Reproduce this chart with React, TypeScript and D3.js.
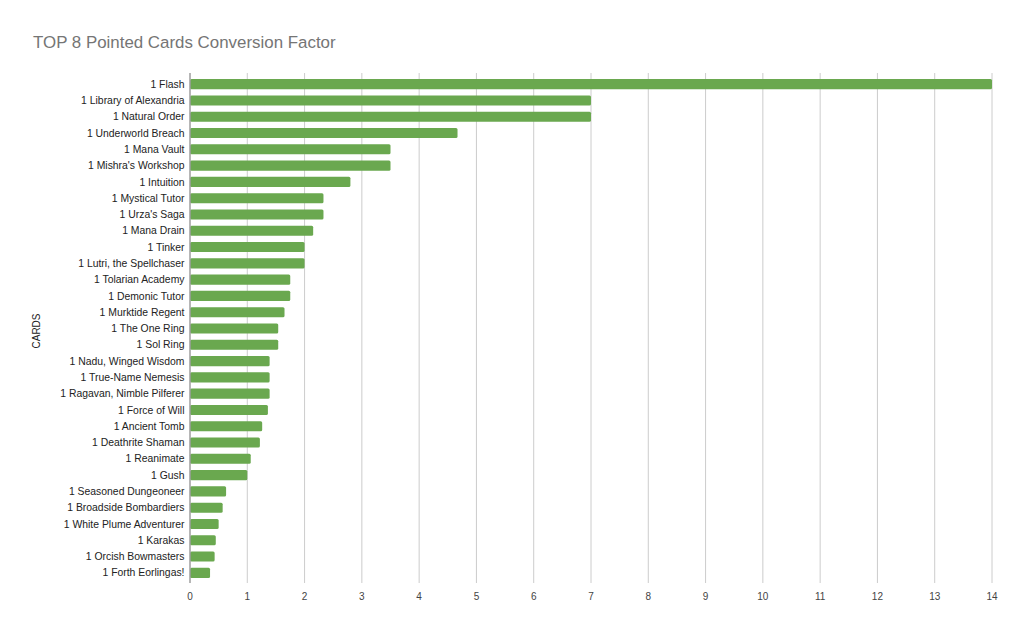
import React from "react";
import * as d3 from "d3";

const cards: string[] = [
  "1 Flash",
  "1 Library of Alexandria",
  "1 Natural Order",
  "1 Underworld Breach",
  "1 Mana Vault",
  "1 Mishra's Workshop",
  "1 Intuition",
  "1 Mystical Tutor",
  "1 Urza's Saga",
  "1 Mana Drain",
  "1 Tinker",
  "1 Lutri, the Spellchaser",
  "1 Tolarian Academy",
  "1 Demonic Tutor",
  "1 Murktide Regent",
  "1 The One Ring",
  "1 Sol Ring",
  "1 Nadu, Winged Wisdom",
  "1 True-Name Nemesis",
  "1 Ragavan, Nimble Pilferer",
  "1 Force of Will",
  "1 Ancient Tomb",
  "1 Deathrite Shaman",
  "1 Reanimate",
  "1 Gush",
  "1 Seasoned Dungeoneer",
  "1 Broadside Bombardiers",
  "1 White Plume Adventurer",
  "1 Karakas",
  "1 Orcish Bowmasters",
  "1 Forth Eorlingas!",
];

const factors: number[] = [
  14, 7, 7, 4.67, 3.5, 3.5, 2.8, 2.33, 2.33, 2.15, 2, 2, 1.75, 1.75, 1.65,
  1.54, 1.54, 1.39, 1.39, 1.39, 1.36, 1.26, 1.22, 1.06, 1, 0.63, 0.57, 0.5,
  0.45, 0.43, 0.35,
];

const xTicks: number[] = [0, 1, 2, 3, 4, 5, 6, 7, 8, 9, 10, 11, 12, 13, 14];

const W = 1024;
const H = 633;
const left = 190;
const right = 992;
const top = 76;
const bottom = 581;
const font = "Arial, 'Liberation Sans', sans-serif";

export default function App() {
  const x = d3.scaleLinear().domain([0, 14]).range([left, right]);
  const y = d3
    .scaleBand<string>()
    .domain(cards)
    .range([top, bottom])
    .paddingInner(0.38)
    .paddingOuter(0.19);
  const bh = y.bandwidth();

  return (
    <svg
      width={W}
      height={H}
      style={{ position: "absolute", left: 0, top: 0, background: "#fff" }}
      fontFamily={font}
    >
      <rect x={0} y={0} width={W} height={H} fill="#fff" />
      <text x={33} y={48} fontSize={16.9} fill="#757575">
        TOP 8 Pointed Cards Conversion Factor
      </text>
      {xTicks.map((t) => (
        <g key={t}>
          {t > 0 && (
            <line
              x1={x(t)}
              x2={x(t)}
              y1={73}
              y2={583}
              stroke="#cccccc"
              strokeWidth={1}
            />
          )}
          <text
            x={x(t)}
            y={600}
            fontSize={10}
            fill="#444"
            textAnchor="middle"
          >
            {t}
          </text>
        </g>
      ))}
      {cards.map((c, i) => (
        <g key={c}>
          <rect
            x={x(0)}
            y={y(c)!}
            width={x(factors[i]) - x(0)}
            height={bh}
            rx={1.5}
            fill="#6aa84f"
          />
          <text
            x={left - 5.5}
            y={y(c)! + bh / 2}
            dy="0.35em"
            fontSize={10.4}
            fill="#222"
            textAnchor="end"
          >
            {c}
          </text>
        </g>
      ))}
      <line x1={left} x2={left} y1={73} y2={583} stroke="#9e9e9e" strokeWidth={1.5} />
      <text
        transform={`translate(40,331) rotate(-90)`}
        fontSize={10}
        fill="#222"
        textAnchor="middle"
      >
        CARDS
      </text>
    </svg>
  );
}
